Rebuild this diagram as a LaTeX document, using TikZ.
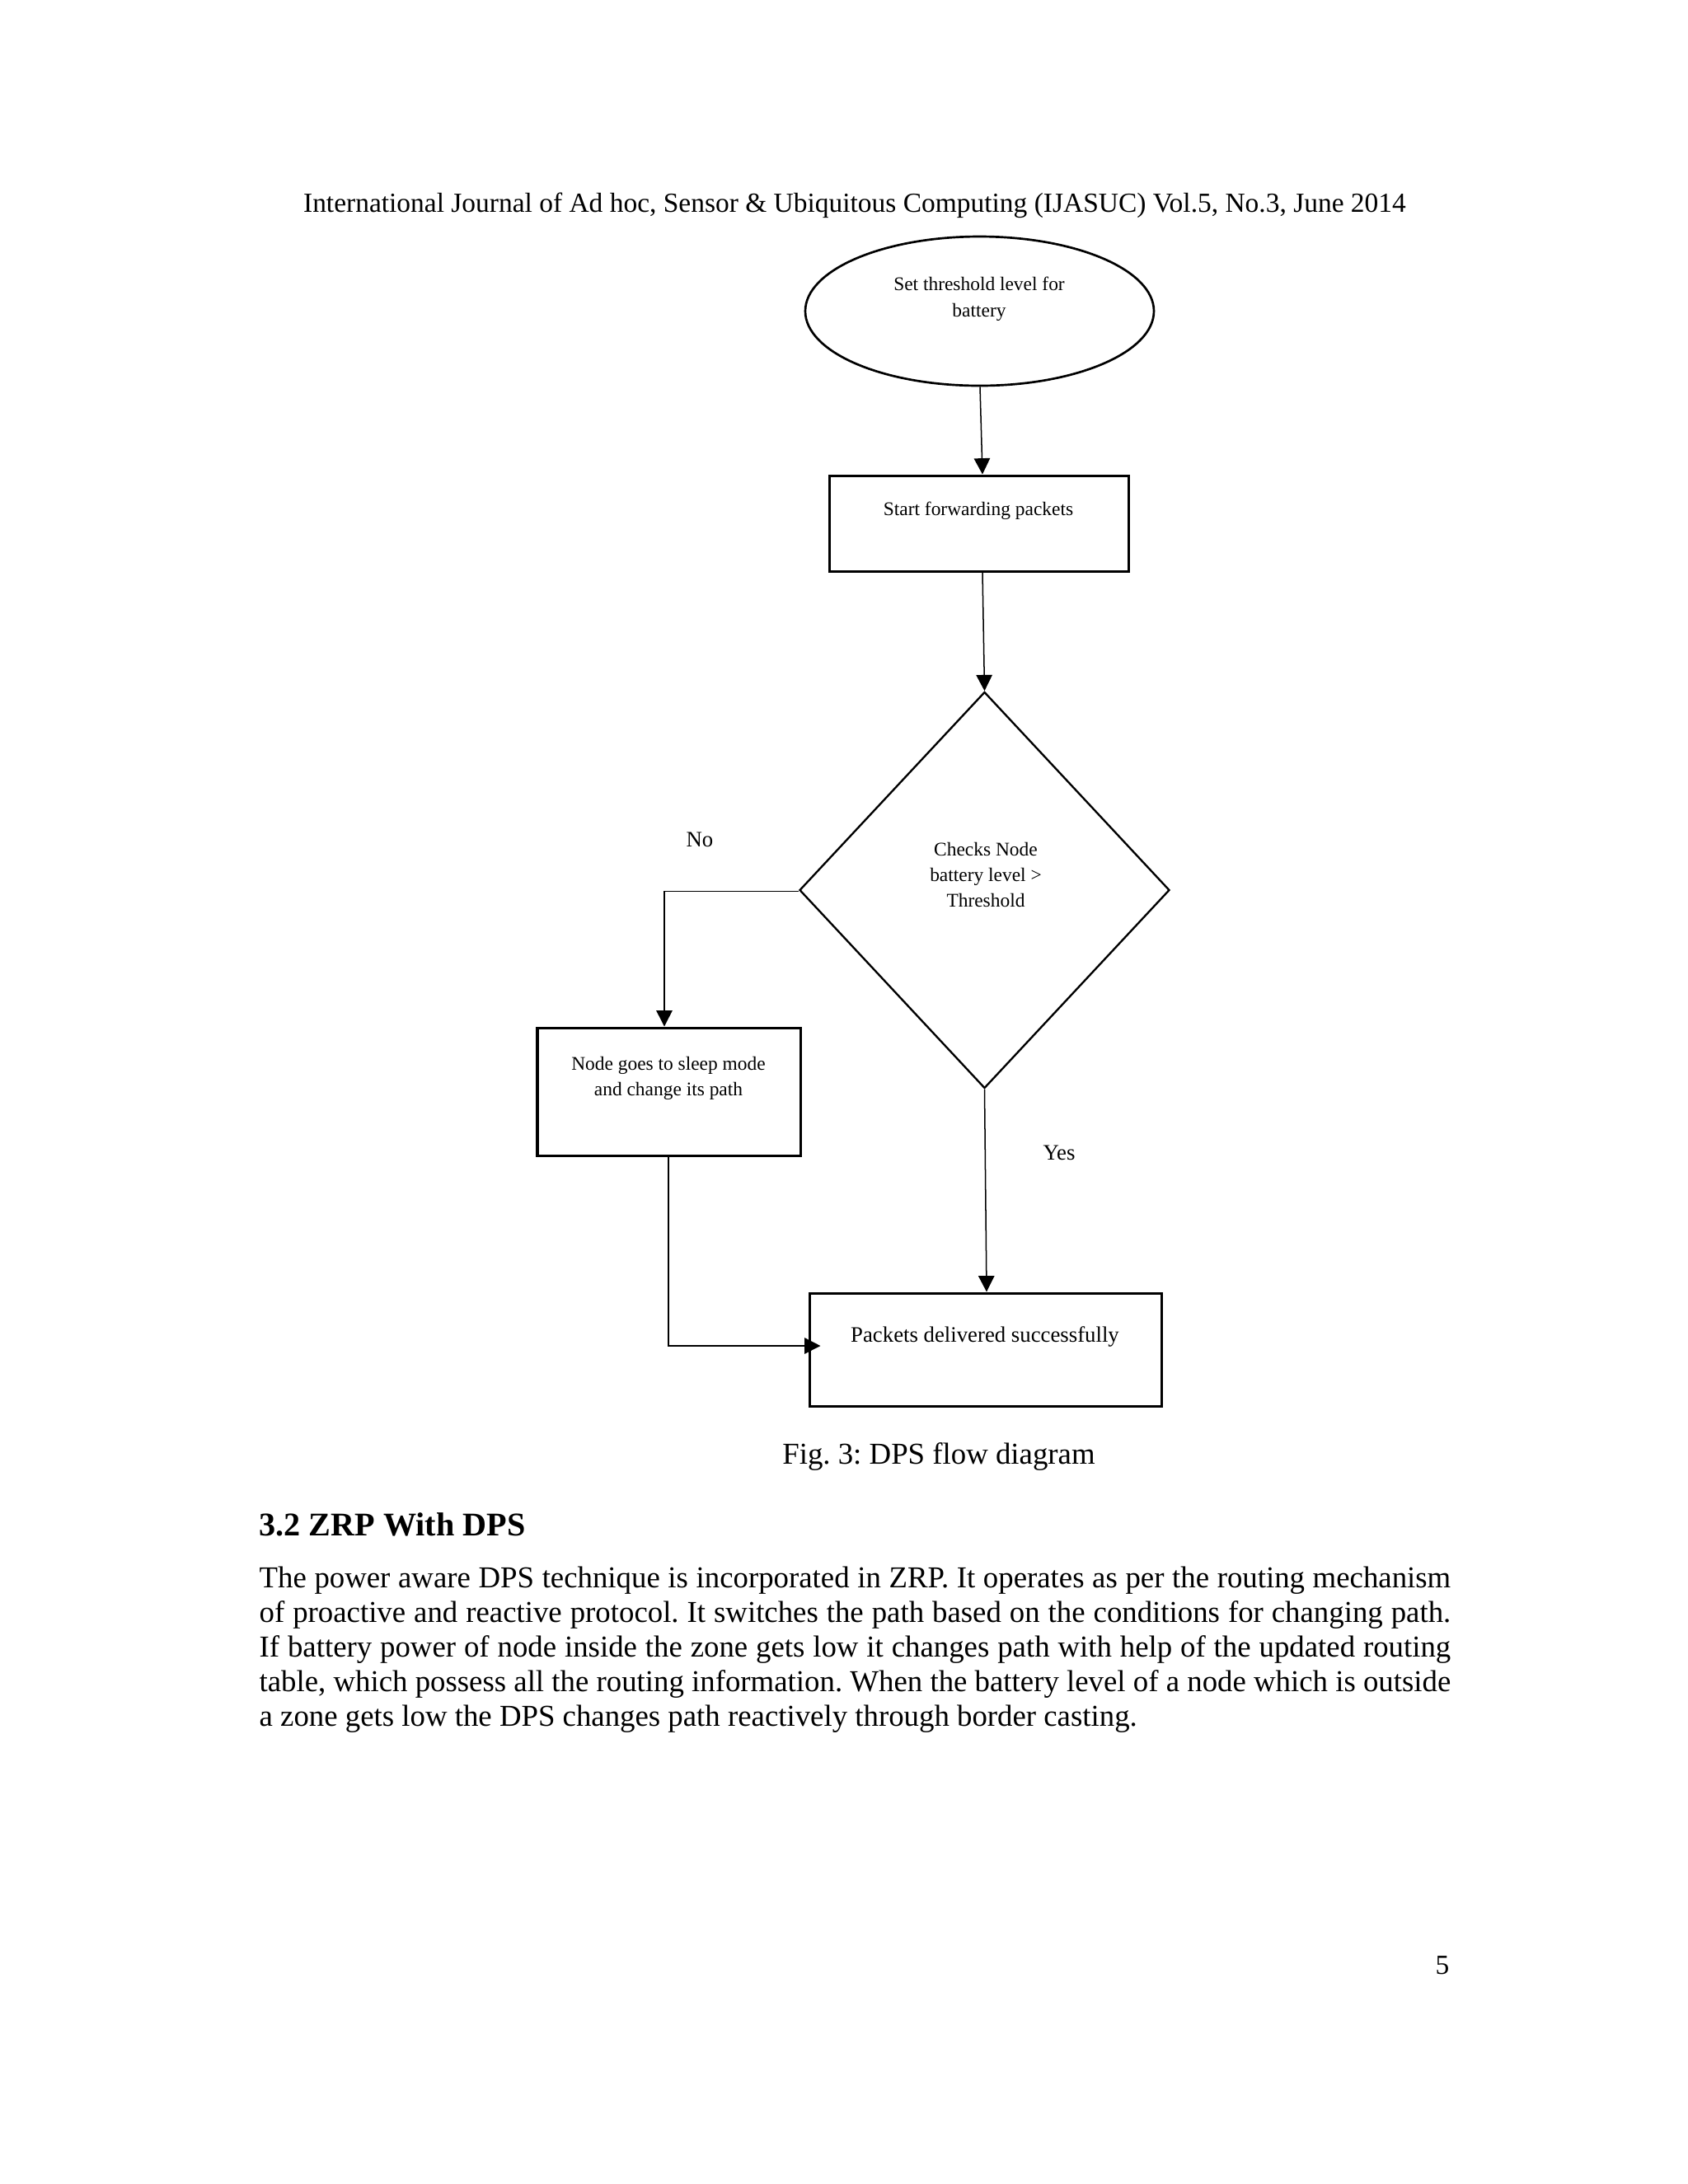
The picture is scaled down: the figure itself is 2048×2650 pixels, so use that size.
\documentclass[tikz,border=0pt]{standalone}
\usepackage{fontspec}
\setmainfont{Liberation Serif}
\usetikzlibrary{shapes.geometric,arrows.meta,calc}
\newlength\pxu
\setlength\pxu{0.29885pt}
\begin{document}
\frenchspacing
\begin{tikzpicture}[x=0.29885pt, y=-0.29885pt,
  txt/.style={inner sep=0, anchor=base},
  tsev/.style={txt, font=\fontsize{7}{8.4}\selectfont},
  teig/.style={txt, font=\fontsize{8}{9.6}\selectfont},
  tten/.style={txt, font=\fontsize{10}{12}\selectfont},
  bodyline/.style={inner sep=0, anchor=base west, font=\fontsize{11}{13}\selectfont},
  boxshape/.style={draw, line width=0.9pt, inner sep=0},
  conn/.style={line width=0.45pt, -{Triangle[width=5.8pt,length=5.8pt]}}]
\fill[white] (0,0) rectangle (2048,2650);
\useasboundingbox (0,0) rectangle (2048,2650);

% header
\node[tten] (hdr) at (1037,257) {International Journal of Ad hoc, Sensor \& Ubiquitous Computing (IJASUC) Vol.5, No.3, June 2014};

% flow chart shapes
\node[draw, ellipse, line width=0.8pt, inner sep=0, minimum width=423\pxu, minimum height=181\pxu] (start) at (1188.5,377.5) {};
\node[tsev] (startA) at (1188,352) {Set threshold level for};
\node[tsev] (startB) at (1188,384) {battery};

\node[boxshape, minimum width=363\pxu, minimum height=116\pxu] (fwd) at (1187.5,635) {};
\node[tsev] (fwdT) at (1187,625) {Start forwarding packets};

\node[draw, diamond, line width=0.7pt, inner sep=0, minimum width=449\pxu, minimum height=481\pxu] (chk) at (1194.5,1080) {};
\node[tsev] (chkA) at (1196,1038) {Checks Node};
\node[tsev] (chkB) at (1196,1069) {battery level >};
\node[tsev] (chkC) at (1196,1100) {Threshold};

\node[boxshape, minimum width=319\pxu, minimum height=155\pxu] (sleep) at (811.5,1324.5) {};
\node[tsev] (sleepA) at (811,1298) {Node goes to sleep mode};
\node[tsev] (sleepB) at (811,1329) {and change its path};

\node[boxshape, minimum width=427\pxu, minimum height=137\pxu] (done) at (1195.5,1637.5) {};
\node[teig] (doneT) at (1195,1628) {Packets delivered successfully};

\node[teig] (no) at (849,1027.5) {No};
\node[teig] (yes) at (1285,1407) {Yes};

% connectors
\draw[conn] ($(start.south)+(0.5,0)$) -- ($(fwd.north)+(4.5,0)$);
\draw[conn] ($(fwd.south)+(4.5,0)$) -- (chk.north);
\draw[conn] ($(chk.west)+(0,1.5)$) -| ($(sleep.north)+(-5.5,0)$);
\draw[conn] (chk.south) -- ($(done.north)+(1.5,0)$);
\draw[conn] ($(sleep.south)+(-0.5,0)$) |- ($(done.west)+(15,-4.5)$);

% caption and text
\node[txt, font=\fontsize{11}{13}\selectfont] (cap) at (1139,1776) {Fig. 3: DPS flow diagram};
\node[bodyline, font=\bfseries\fontsize{12}{14}\selectfont] (sec) at (314,1863) {3.2 ZRP With DPS};
\node[bodyline] (p1) at (314,1926) {\hbox to 432pt{The power aware DPS technique is incorporated in ZRP. It operates as per the routing mechanism}};
\node[bodyline] (p2) at (314,1968) {\hbox to 432pt{of proactive and reactive protocol. It switches the path based on the conditions for changing path.}};
\node[bodyline] (p3) at (314,2010) {\hbox to 432pt{If battery power of node inside the zone gets low it changes path with help of the updated routing}};
\node[bodyline] (p4) at (314,2052) {\hbox to 432pt{table, which possess all the routing information. When the battery level of a node which is outside}};
\node[bodyline] (p5) at (314,2094) {a zone gets low the DPS changes path reactively through border casting.};
\node[tten] (pg) at (1750,2395) {5};
\end{tikzpicture}
\end{document}
